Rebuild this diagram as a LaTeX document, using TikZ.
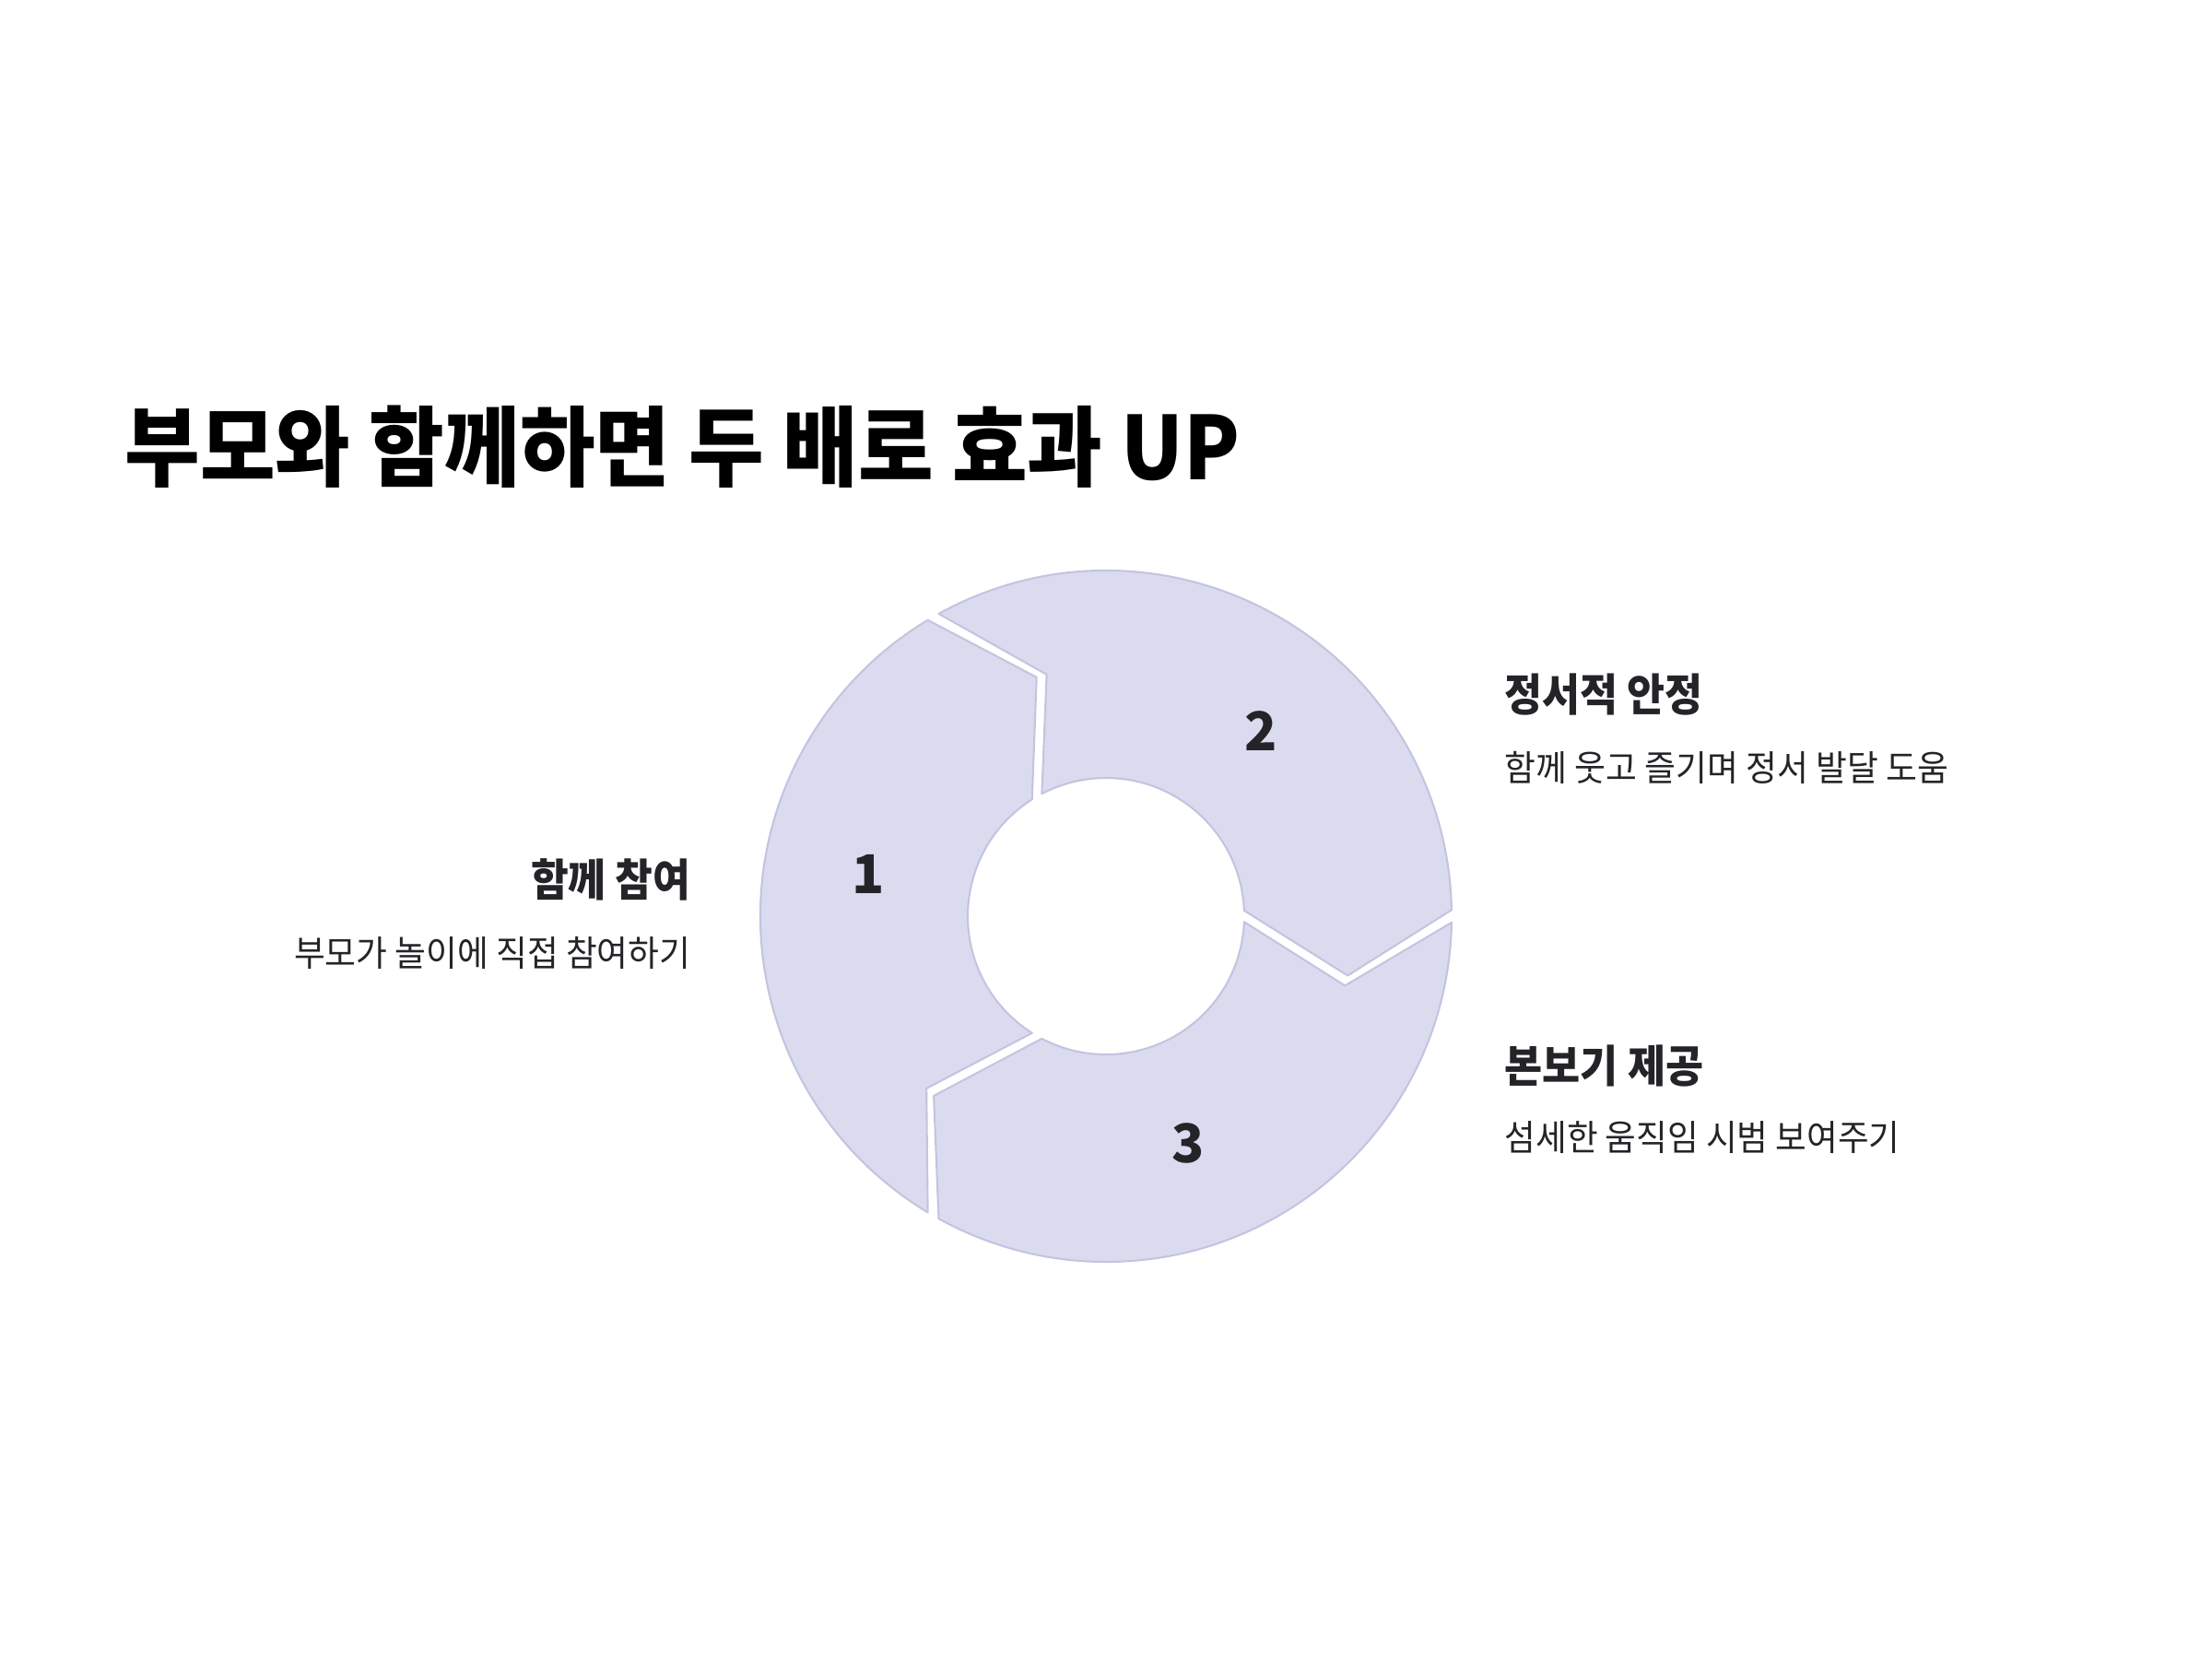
\documentclass[tikz,border=0pt]{standalone}
\usepackage{fontspec,graphicx}
\setmainfont{Noto Sans CJK KR}
\definecolor{ringfill}{RGB}{219,219,240}
\definecolor{ringline}{RGB}{196,196,224}
\definecolor{ink}{RGB}{36,36,40}
\newcommand{\squeeze}[2][0.93]{\scalebox{#1}[1]{#2}}
\tikzset{
  seg/.style={fill=ringfill, draw=ringline, line width=0.6pt, line join=round},
  num/.style={font=\bfseries\fontsize{16.5}{18}\selectfont, text=ink, inner sep=0},
  head/.style={font=\bfseries\fontsize{13.7}{16}\selectfont, text=ink, inner sep=0},
  desc/.style={font=\fontsize{11}{13}\selectfont, text=ink, inner sep=0}
}
\begin{document}
\begin{tikzpicture}
  \useasboundingbox (0,0) rectangle (24,-18);
  \node [font=\bfseries\fontsize{27}{32}\selectfont, inner sep=0, anchor=west] (title) at (1.35,-4.85) {\squeeze[0.935]{부모와 함께하면 두 배로 효과 UP}};

  % ring of three arrows, clockwise
  \coordinate (c) at (12.0,-9.94);
  \begin{scope}[shift={(c)}]
    \foreach \a/\n in {240/1, 120/2, 0/3} {
      \draw [seg] ({\a-1.05}:3.75) arc [start angle=\a-1.05, end angle=\a-120+1.05, radius=3.75]
        -- ({\a-135+1.2}:2.7) -- ({\a-120+2.35}:1.5)
        arc [start angle=\a-120+2.35, end angle=\a-2.35, radius=1.5]
        -- ({\a-15-1.2}:2.7) -- cycle;
      \node [num] (n\n) at ({\a-70}:2.62) {\n};
    }
  \end{scope}

  \node [head, anchor=east] (h1) at (7.5,-9.54) {\squeeze[0.92]{함께 참여}};
  \node [desc, anchor=east] (d1) at (7.5,-10.335) {\squeeze[0.95]{부모가 놀이에 직접 참여하기}};
  \node [head, anchor=west] (h2) at (16.32,-7.535) {\squeeze[0.925]{정서적 안정}};
  \node [desc, anchor=west] (d2) at (16.32,-8.33) {\squeeze[0.952]{함께 웃고 즐기며 정서 발달 도움}};
  \node [head, anchor=west] (h3) at (16.32,-11.56) {\squeeze[0.928]{본보기 제공}};
  \node [desc, anchor=west] (d3) at (16.32,-12.34) {\squeeze[0.947]{섬세한 움직임 시범 보여주기}};
\end{tikzpicture}
\end{document}
